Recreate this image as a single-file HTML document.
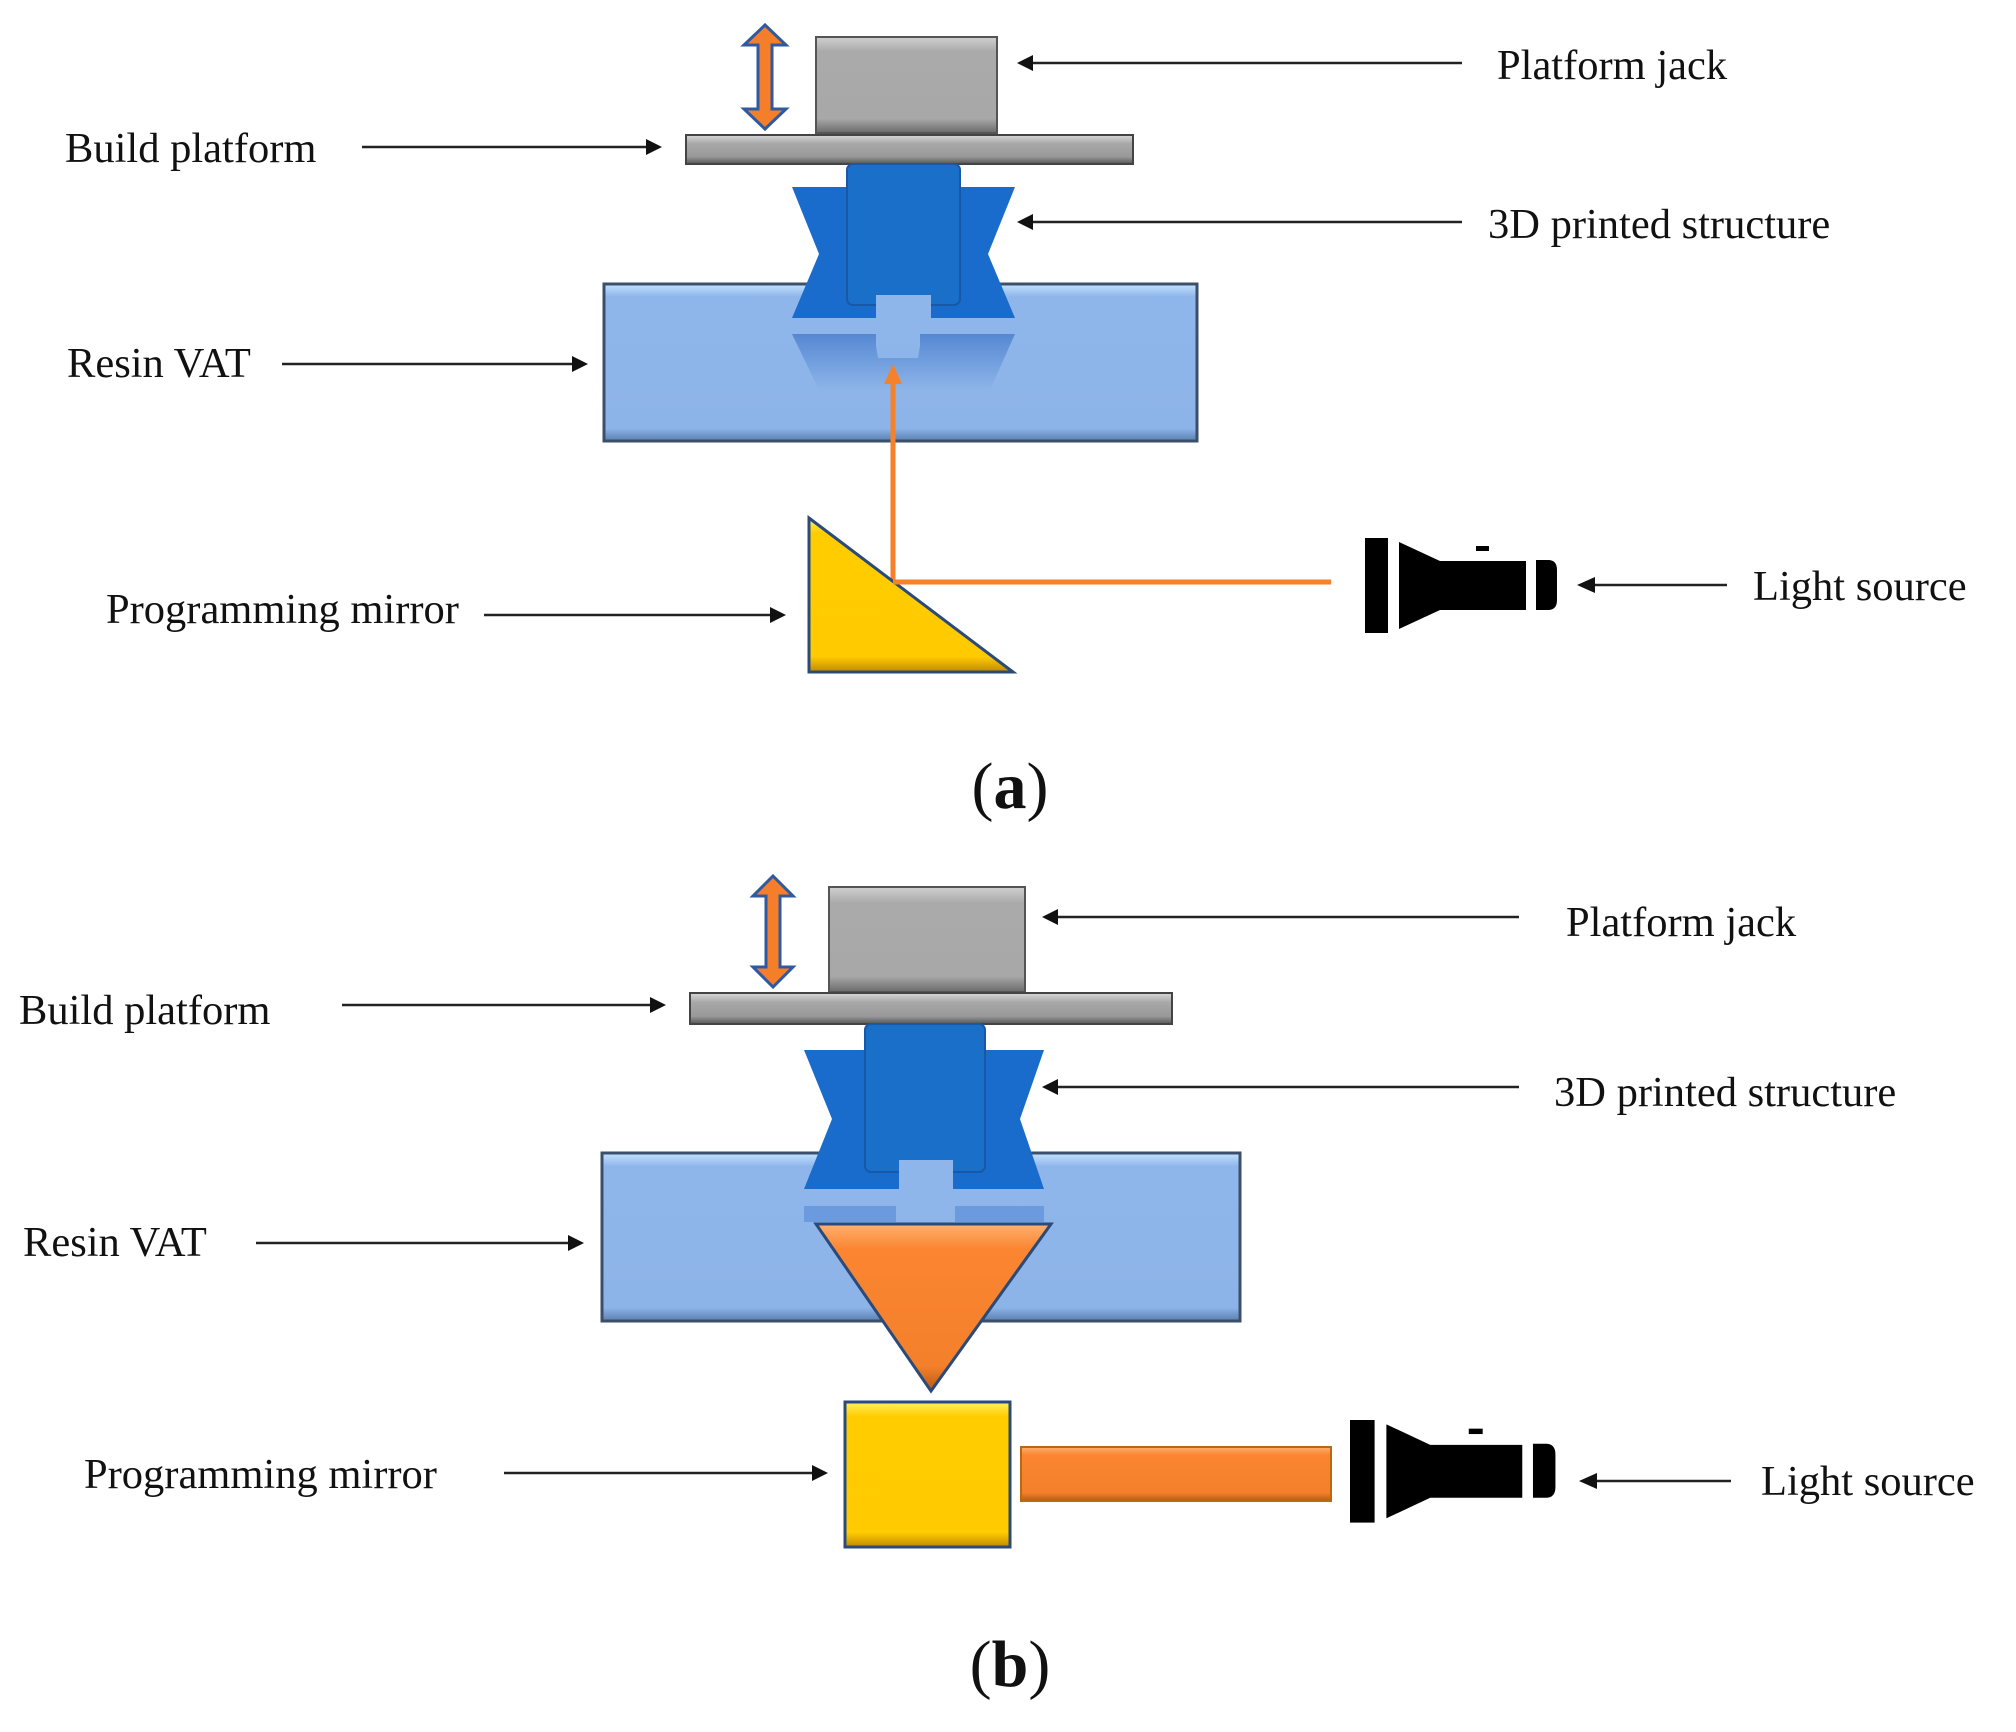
<!DOCTYPE html>
<html><head><meta charset="utf-8"><style>
html,body{margin:0;padding:0;background:#fff;}
svg{display:block;}
text{font-family:"Liberation Serif",serif;font-size:42.5px;fill:#111;}
</style></head><body>
<svg width="2016" height="1732" viewBox="0 0 2016 1732" xmlns="http://www.w3.org/2000/svg">
<defs>
<linearGradient id="gray" x1="0" y1="0" x2="0" y2="1"><stop offset="0" stop-color="#d0d0d0"/><stop offset="0.15" stop-color="#aaaaaa"/><stop offset="0.85" stop-color="#a8a8a8"/><stop offset="1" stop-color="#6a6a6a"/></linearGradient>
<linearGradient id="grayp" x1="0" y1="0" x2="0" y2="1"><stop offset="0" stop-color="#d8d8d8"/><stop offset="0.3" stop-color="#a8a8a8"/><stop offset="0.75" stop-color="#999"/><stop offset="1" stop-color="#555"/></linearGradient>
<linearGradient id="vat" x1="0" y1="0" x2="0" y2="1"><stop offset="0" stop-color="#c4e2ff"/><stop offset="0.08" stop-color="#8fb6ea"/><stop offset="0.92" stop-color="#8db4e8"/><stop offset="1" stop-color="#5a7fb0"/></linearGradient>
<linearGradient id="yel" x1="0" y1="0" x2="0" y2="1"><stop offset="0" stop-color="#fff060"/><stop offset="0.1" stop-color="#ffcc00"/><stop offset="0.9" stop-color="#ffcb00"/><stop offset="1" stop-color="#c08a00"/></linearGradient>
<linearGradient id="org" x1="0" y1="0" x2="0" y2="1"><stop offset="0" stop-color="#ffb070"/><stop offset="0.15" stop-color="#fb8530"/><stop offset="0.85" stop-color="#f4802c"/><stop offset="1" stop-color="#b85a10"/></linearGradient>
<linearGradient id="refl" x1="0" y1="0" x2="0" y2="1"><stop offset="0" stop-color="#3d74c8" stop-opacity="0.7"/><stop offset="1" stop-color="#3d74c8" stop-opacity="0"/></linearGradient>
</defs>

<g stroke="#222" stroke-width="2.5" fill="none">
<line x1="362" y1="147" x2="650" y2="147"/>
<line x1="1462" y1="63" x2="1030" y2="63"/>
<line x1="1462" y1="222" x2="1030" y2="222"/>
<line x1="282" y1="364" x2="576" y2="364"/>
<line x1="484" y1="615" x2="772" y2="615"/>
<line x1="1727" y1="585" x2="1592" y2="585"/>
<line x1="342" y1="1005" x2="654" y2="1005"/>
<line x1="1519" y1="917" x2="1056" y2="917"/>
<line x1="1519" y1="1087" x2="1056" y2="1087"/>
<line x1="256" y1="1243" x2="572" y2="1243"/>
<line x1="504" y1="1473" x2="814" y2="1473"/>
<line x1="1731" y1="1481" x2="1594" y2="1481"/>
</g>
<g fill="#111">
<polygon points="662,147 646,139 646,155"/>
<polygon points="1017,63 1033,55 1033,71"/>
<polygon points="1017,222 1033,214 1033,230"/>
<polygon points="588,364 572,356 572,372"/>
<polygon points="786,615 770,607 770,623"/>
<polygon points="1577,585 1595,577 1595,593"/>
<polygon points="666,1005 650,997 650,1013"/>
<polygon points="1042,917 1058,909 1058,925"/>
<polygon points="1042,1087 1058,1079 1058,1095"/>
<polygon points="584,1243 568,1235 568,1251"/>
<polygon points="828,1473 812,1465 812,1481"/>
<polygon points="1579,1481 1597,1473 1597,1489"/>
</g>

<text x="65" y="162">Build platform</text>
<text x="1497" y="79">Platform jack</text>
<text x="1488" y="238">3D printed structure</text>
<text x="67" y="377">Resin VAT</text>
<text x="106" y="623">Programming mirror</text>
<text x="1753" y="600">Light source</text>
<text x="1010" y="808" text-anchor="middle" style="font-size:66px"><tspan>(</tspan><tspan font-weight="bold">a</tspan><tspan>)</tspan></text>

<text x="19" y="1024">Build platform</text>
<text x="1566" y="936">Platform jack</text>
<text x="1554" y="1106">3D printed structure</text>
<text x="23" y="1256">Resin VAT</text>
<text x="84" y="1488">Programming mirror</text>
<text x="1761" y="1495">Light source</text>
<text x="1010" y="1686" text-anchor="middle" style="font-size:66px"><tspan>(</tspan><tspan font-weight="bold">b</tspan><tspan>)</tspan></text>

<!-- Panel a -->
<polygon points="765,25 786,45 772,45 772,109 786,109 765,129 744,109 758,109 758,45 744,45" fill="#f57e2a" stroke="#2f5aa0" stroke-width="3"/>
<rect x="816" y="37" width="181" height="96" fill="url(#gray)" stroke="#555" stroke-width="2"/>
<rect x="686" y="135" width="447" height="29" fill="url(#grayp)" stroke="#444" stroke-width="2"/>
<rect x="604" y="284" width="593" height="157" fill="url(#vat)" stroke="#3c4f6a" stroke-width="3"/>
<path d="M792,334 L876,334 L876,346 L878,358 L918,358 L920,346 L920,334 L1015,334 L990,390 L819,390 Z" fill="url(#refl)"/>
<polygon points="792,187 1015,187 988,254 1015,318 792,318 819,254" fill="#1a6ccc"/>
<rect x="847" y="164" width="113" height="141" rx="6" fill="#1a70c8" stroke="#1858a8" stroke-width="2"/>
<rect x="876" y="295" width="55" height="24" fill="#8fb6ea"/>
<polyline points="1331,582 893,582 893,380" fill="none" stroke="#f5822a" stroke-width="5"/>
<polygon points="893,364 884,384 902,384" fill="#f5822a"/>
<polygon points="809,518 1013,672 809,672" fill="url(#yel)" stroke="#2a4a7a" stroke-width="3"/>
<line x1="893" y1="582" x2="1331" y2="582" stroke="#f5822a" stroke-width="5"/>
<g fill="#000">
<rect x="1365" y="538" width="23" height="95"/>
<polygon points="1399,542 1440,561 1526,561 1526,610 1440,610 1399,629"/>
<path d="M1536,560 H1548 Q1557,560 1557,570 V600 Q1557,610 1548,610 H1536 Z"/>
<rect x="1476" y="546" width="13" height="5"/>
</g>

<!-- Panel b -->
<polygon points="773,876 793,896 780,896 780,967 793,967 773,987 753,967 766,967 766,896 753,896" fill="#f57e2a" stroke="#2f5aa0" stroke-width="3"/>
<rect x="829" y="887" width="196" height="105" fill="url(#gray)" stroke="#555" stroke-width="2"/>
<rect x="690" y="993" width="482" height="31" fill="url(#grayp)" stroke="#444" stroke-width="2"/>
<rect x="602" y="1153" width="638" height="168" fill="url(#vat)" stroke="#3c4f6a" stroke-width="3"/>
<path d="M804,1206 L896,1206 L896,1222 L804,1222 Z M955,1206 L1044,1206 L1044,1222 L955,1222 Z" fill="#5d8fd8" opacity="0.7"/>
<polygon points="804,1050 1044,1050 1020,1119 1044,1189 804,1189 832,1119" fill="#1a6ccc"/>
<rect x="865" y="1024" width="120" height="148" rx="6" fill="#1a70c8" stroke="#1858a8" stroke-width="2"/>
<rect x="899" y="1160" width="54" height="30" fill="#8fb6ea"/>
<polygon points="816,1224 1051,1224 931,1391" fill="url(#org)" stroke="#2a4a7a" stroke-width="3"/>
<rect x="845" y="1402" width="165" height="145" fill="url(#yel)" stroke="#2a4a7a" stroke-width="3"/>
<rect x="1021" y="1447" width="310" height="54" fill="url(#org)" stroke="#b86a10" stroke-width="2"/>
<g fill="#000" transform="translate(1350,1420) scale(1.07,1.08) translate(-1365,-538)">
<rect x="1365" y="538" width="23" height="95"/>
<polygon points="1399,542 1440,561 1526,561 1526,610 1440,610 1399,629"/>
<path d="M1536,560 H1548 Q1557,560 1557,570 V600 Q1557,610 1548,610 H1536 Z"/>
<rect x="1476" y="546" width="13" height="5"/>
</g>
</svg>
</body></html>
